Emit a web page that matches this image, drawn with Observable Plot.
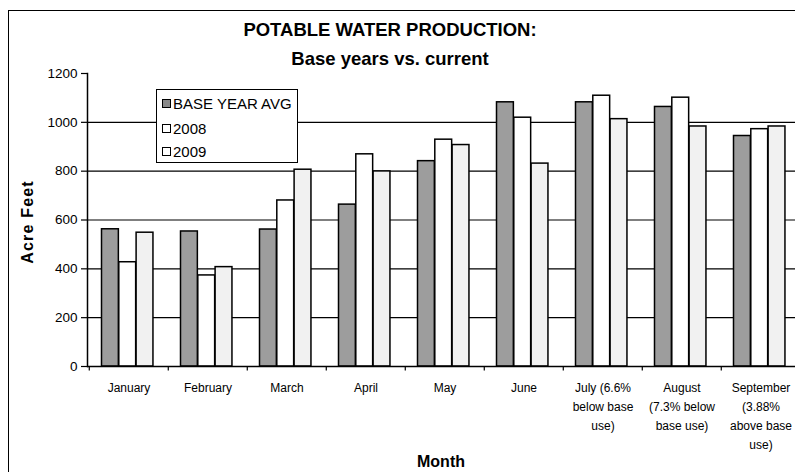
<!DOCTYPE html>
<html>
<head>
<meta charset="utf-8">
<script src="https://cdn.jsdelivr.net/npm/d3@7"></script>
<script src="https://cdn.jsdelivr.net/npm/@observablehq/plot@0.6"></script>
<style>
  html, body { margin: 0; padding: 0; background: #fff; overflow: hidden; }
  body { width: 795px; height: 472px; position: relative; font-family: "Liberation Sans", Arial, sans-serif; }
  #chart { position: absolute; left: 0; top: 0; }
  .border { position: absolute; left: 8px; top: 10px; width: 820px; height: 480px; border: 1.5px solid #000; box-sizing: border-box; }
  .title { position: absolute; left: 0; width: 780px; text-align: center; font-weight: bold; font-size: 18.5px; color: #000; }
  .legend { position: absolute; left: 156px; top: 89px; width: 142px; height: 74px; border: 1.3px solid #000; box-sizing: border-box; background: #fff; }
  .legend .item { position: absolute; left: 5px; font-size: 15px; line-height: 15px; display: flex; align-items: center; white-space: nowrap; }
  .legend .sw { width: 7px; height: 7px; border: 1.3px solid #000; margin-right: 2px; }
  .ylab { position: absolute; left: 28px; top: 222px; transform: translate(-50%, -50%) rotate(-90deg); font-weight: bold; font-size: 16px; letter-spacing: 1.2px; white-space: nowrap; }
  .xlab { position: absolute; left: 441px; top: 462px; transform: translate(-50%, -50%); font-weight: bold; font-size: 16px; white-space: nowrap; }
</style>
</head>
<body>
<div id="chart"></div>
<div class="border"></div>
<div class="title" style="top:19px">POTABLE WATER PRODUCTION:</div>
<div class="title" style="top:48px">Base years vs. current</div>
<div class="ylab">Acre Feet</div>
<div class="xlab">Month</div>
<div class="legend" id="legend"></div>
<script>
const months = ["January", "February", "March", "April", "May", "June", "July", "August", "September"];
const monthLabels = ["January", "February", "March", "April", "May", "June",
  "July (6.6%\nbelow base\nuse)", "August\n(7.3% below\nbase use)", "September\n(3.88%\nabove base\nuse)"];
const seriesNames = ["BASE YEAR AVG", "2008", "2009"];
const baseYearAvg = [562, 553, 561, 663, 841, 1082, 1082, 1063, 944];
const y2008 = [427, 373, 680, 869, 929, 1019, 1109, 1101, 972];
const y2009 = [548, 407, 806, 799, 907, 831, 1013, 983, 983];
const yTicks = [0, 200, 400, 600, 800, 1000, 1200];
const gridValues = [200, 400, 600, 800, 1000];

const seriesValues = [baseYearAvg, y2008, y2009];
const fills = ["#9d9d9d", "#ffffff", "#f1f1f1"];

const left = 87, right = 802;
const bw = (right - left) / months.length;
const barW = 17.3, groupStart = 12.5;

const barMarks = seriesValues.map((vals, i) => {
  const data = months.map((m, j) => ({month: m, value: vals[j]}));
  return Plot.barY(data, {
    x: "month", y: "value",
    fill: fills[i], stroke: "#000", strokeWidth: 1.5,
    insetLeft: groupStart + i * barW,
    insetRight: bw - (groupStart + (i + 1) * barW)
  });
});

const chart = Plot.plot({
  width: 795,
  height: 472,
  marginTop: 73,
  marginBottom: 106,
  marginLeft: 87,
  marginRight: 0,
  style: {fontFamily: "'Liberation Sans', Arial, sans-serif", color: "#000", background: "transparent", overflow: "visible"},
  x: {type: "band", domain: months, range: [left, right], padding: 0},
  y: {domain: [0, 1200]},
  marks: [
    Plot.ruleY(gridValues, {stroke: "#000", strokeWidth: 1.2}),
    ...barMarks,
    Plot.ruleY([0], {stroke: "#000", strokeWidth: 1.5}),
    Plot.frame({anchor: "left", stroke: "#000", strokeWidth: 1.5}),
    Plot.ruleX(months, {x: d => d, dx: -bw / 2, y1: 0, y2: -18, stroke: "#000", strokeWidth: 1.2}),
    Plot.axisY({ticks: yTicks, tickSize: 6, tickPadding: 4, fontSize: 13.5, label: null, strokeWidth: 1.2,
      tickFormat: d => String(d)}),
    Plot.axisX({tickSize: 0, tickPadding: 12, fontSize: 12, label: null, lineHeight: 1.58,
      tickFormat: d => monthLabels[months.indexOf(d)]})
  ]
});
document.getElementById("chart").appendChild(chart);

const legend = document.getElementById("legend");
const legendFills = ["#8a8a8a", "#ffffff", "#ffffff"];
const itemTops = [6, 31, 54];
seriesNames.forEach((name, i) => {
  const it = document.createElement("div");
  it.className = "item";
  it.style.top = itemTops[i] + "px";
  const sw = document.createElement("span");
  sw.className = "sw";
  sw.style.background = legendFills[i];
  it.appendChild(sw);
  it.appendChild(document.createTextNode(name));
  legend.appendChild(it);
});
</script>
</body>
</html>
